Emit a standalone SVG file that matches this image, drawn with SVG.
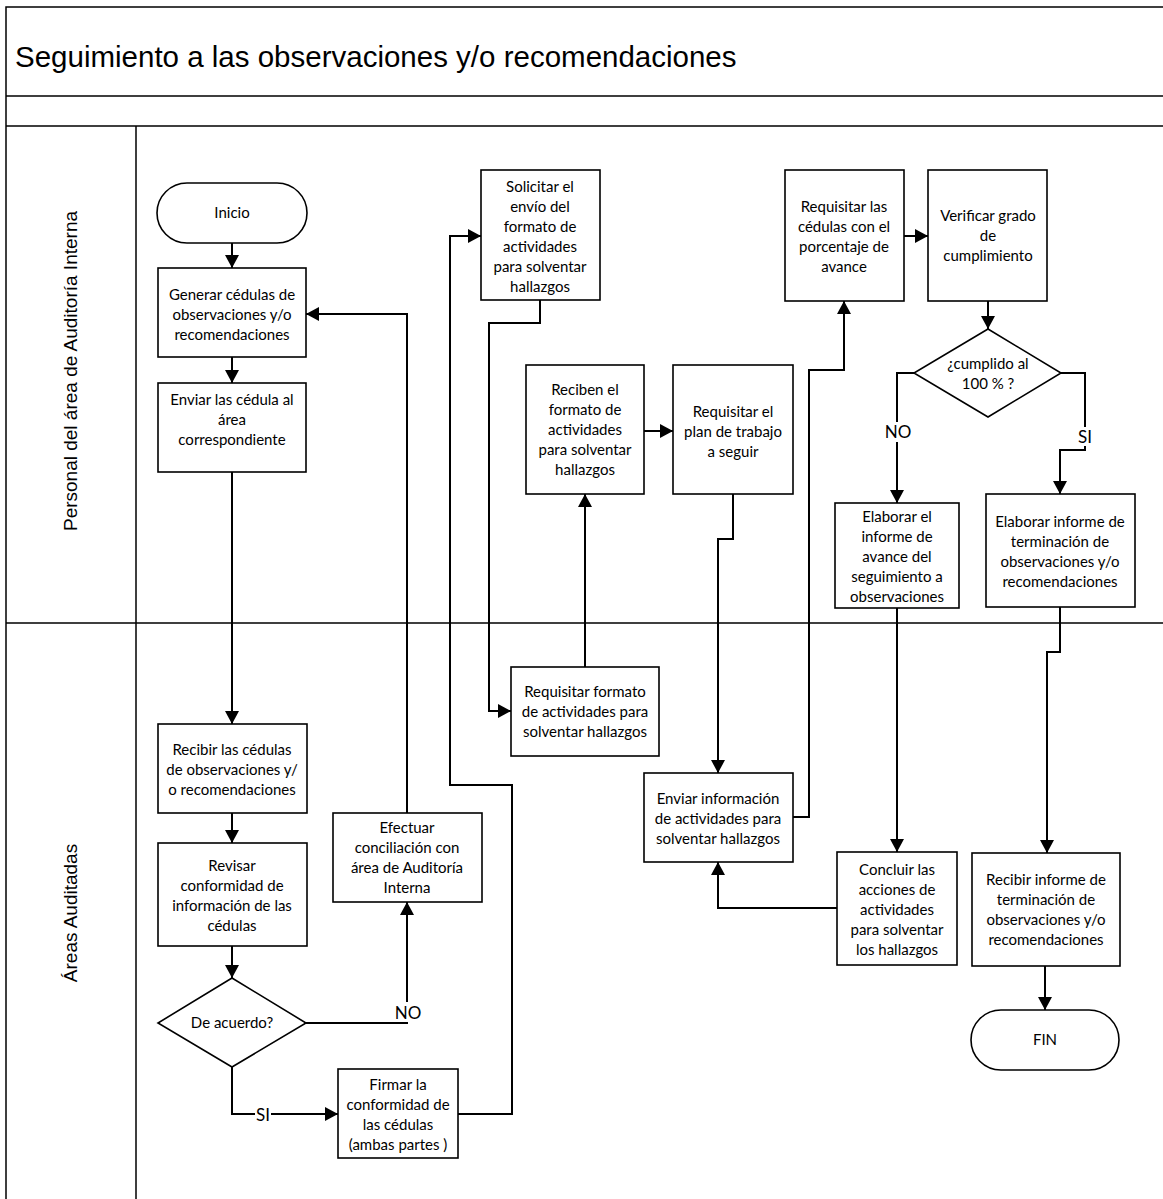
<svg xmlns="http://www.w3.org/2000/svg" width="1163" height="1199" viewBox="0 0 1163 1199">
<defs>
<marker id="arr" markerUnits="userSpaceOnUse" markerWidth="14" markerHeight="14" refX="13" refY="7" orient="auto">
<path d="M0,0 L13,7 L0,14 z" fill="#000"/>
</marker>
<style>
.frame{fill:none;stroke:#000;stroke-width:1.5}
.box{fill:#fff;stroke:#000;stroke-width:1.6}
.t{font-family:Lato,"Liberation Sans",sans-serif;font-size:15px;fill:#000;text-anchor:middle}
.lbl{font-family:Lato,"Liberation Sans",sans-serif;font-size:17px;fill:#000;text-anchor:middle}
.lane{font-family:"Liberation Sans",Arial,sans-serif;font-size:19px;fill:#000;text-anchor:middle}
.title{font-family:"Liberation Sans",Arial,sans-serif;font-size:29.5px;fill:#000}
.c{fill:none;stroke:#000;stroke-width:2;marker-end:url(#arr)}
.bg{fill:#fff}
</style>
</defs>
<rect width="1163" height="1199" fill="#fff"/>
<g id="frame">
<path class="frame" d="M6,1199 V7 H1163 M6,96 H1163 M6,126 H1163 M136,126 V1199 M6,623 H1163"/>
<text class="title" x="15" y="67">Seguimiento a las observaciones y/o recomendaciones</text>
<text class="lane" transform="translate(77,371) rotate(-90)">Personal del área de Auditoría Interna</text>
<text class="lane" transform="translate(77,913) rotate(-90)">Áreas Auditadas</text>
</g>
<g id="connectors">
<path class="c" d="M232,243 V268"/>
<path class="c" d="M232,357 V383"/>
<path class="c" d="M232,472 V724"/>
<path class="c" d="M232,813 V843"/>
<path class="c" d="M232,946 V978"/>
<path class="c" d="M306,1023 H407 V902"/>
<path class="c" d="M407,813 V314 H306"/>
<path class="c" d="M232,1067 V1114 H338"/>
<path class="c" d="M458,1114 H512 V785 H450 V236 H481"/>
<path class="c" d="M540,300 V323 H489 V711 H511"/>
<path class="c" d="M585,667 V494"/>
<path class="c" d="M644,431 H673"/>
<path class="c" d="M733,494 V539 H718 V773"/>
<path class="c" d="M793,817 H809 V370 H844 V301"/>
<path class="c" d="M904,236 H928"/>
<path class="c" d="M988,301 V329"/>
<path class="c" d="M914,373 H897 V503"/>
<path class="c" d="M1061,373 H1085 V450 H1060 V494"/>
<path class="c" d="M897,608 V852"/>
<path class="c" d="M1060,607 V652 H1047 V853"/>
<path class="c" d="M837,908 H718 V862"/>
<path class="c" d="M1045,966 V1010"/>
<rect class="bg" x="393" y="1002" width="30" height="20"/>
<text class="lbl" x="408" y="1019">NO</text>
<rect class="bg" x="255" y="1107" width="16" height="18"/>
<text class="lbl" x="263" y="1121">SI</text>
<rect class="bg" x="883" y="422" width="30" height="20"/>
<text class="lbl" x="898" y="438">NO</text>
<rect class="bg" x="1077" y="427" width="16" height="19"/>
<text class="lbl" x="1085" y="443">SI</text>
</g>
<g id="inicio">
<rect class="box" x="157" y="183" width="150" height="60" rx="30"/>
<text class="t" x="232" y="218">Inicio</text>
</g>
<g id="generar">
<rect class="box" x="158" y="268" width="148" height="89"/>
<text class="t" x="232" y="300">Generar cédulas de</text>
<text class="t" x="232" y="320">observaciones y/o</text>
<text class="t" x="232" y="340">recomendaciones</text>
</g>
<g id="enviar">
<rect class="box" x="158" y="383" width="148" height="89"/>
<text class="t" x="232" y="405">Enviar las cédula al</text>
<text class="t" x="232" y="425">área</text>
<text class="t" x="232" y="445">correspondiente</text>
</g>
<g id="solicitar">
<rect class="box" x="481" y="170" width="119" height="130"/>
<text class="t" x="540" y="192">Solicitar el</text>
<text class="t" x="540" y="212">envío del</text>
<text class="t" x="540" y="232">formato de</text>
<text class="t" x="540" y="252">actividades</text>
<text class="t" x="540" y="272">para solventar</text>
<text class="t" x="540" y="292">hallazgos</text>
</g>
<g id="reciben">
<rect class="box" x="526" y="365" width="118" height="129"/>
<text class="t" x="585" y="395">Reciben el</text>
<text class="t" x="585" y="415">formato de</text>
<text class="t" x="585" y="435">actividades</text>
<text class="t" x="585" y="455">para solventar</text>
<text class="t" x="585" y="475">hallazgos</text>
</g>
<g id="plan">
<rect class="box" x="673" y="365" width="120" height="129"/>
<text class="t" x="733" y="417">Requisitar el</text>
<text class="t" x="733" y="437">plan de trabajo</text>
<text class="t" x="733" y="457">a seguir</text>
</g>
<g id="requisitar-cedulas">
<rect class="box" x="785" y="170" width="119" height="131"/>
<text class="t" x="844" y="212">Requisitar las</text>
<text class="t" x="844" y="232">cédulas con el</text>
<text class="t" x="844" y="252">porcentaje de</text>
<text class="t" x="844" y="272">avance</text>
</g>
<g id="verificar">
<rect class="box" x="928" y="170" width="119" height="131"/>
<text class="t" x="988" y="221">Verificar grado</text>
<text class="t" x="988" y="241">de</text>
<text class="t" x="988" y="261">cumplimiento</text>
</g>
<g id="cumplido">
<polygon class="box" points="988,329 1061,373 988,417 914,373"/>
<text class="t" x="988" y="369">¿cumplido al</text>
<text class="t" x="988" y="389">100 % ?</text>
</g>
<g id="avance">
<rect class="box" x="835" y="503" width="124" height="105"/>
<text class="t" x="897" y="522">Elaborar el</text>
<text class="t" x="897" y="542">informe de</text>
<text class="t" x="897" y="562">avance del</text>
<text class="t" x="897" y="582">seguimiento a</text>
<text class="t" x="897" y="602">observaciones</text>
</g>
<g id="terminacion">
<rect class="box" x="986" y="494" width="149" height="113"/>
<text class="t" x="1060" y="527">Elaborar informe de</text>
<text class="t" x="1060" y="547">terminación de</text>
<text class="t" x="1060" y="567">observaciones y/o</text>
<text class="t" x="1060" y="587">recomendaciones</text>
</g>
<g id="recibir">
<rect class="box" x="158" y="724" width="149" height="89"/>
<text class="t" x="232" y="755">Recibir las cédulas</text>
<text class="t" x="232" y="775">de observaciones y/</text>
<text class="t" x="232" y="795">o recomendaciones</text>
</g>
<g id="revisar">
<rect class="box" x="158" y="843" width="149" height="103"/>
<text class="t" x="232" y="871">Revisar</text>
<text class="t" x="232" y="891">conformidad de</text>
<text class="t" x="232" y="911">información de las</text>
<text class="t" x="232" y="931">cédulas</text>
</g>
<g id="deacuerdo">
<polygon class="box" points="232,978 306,1023 232,1067 158,1023"/>
<text class="t" x="232" y="1028">De acuerdo?</text>
</g>
<g id="efectuar">
<rect class="box" x="333" y="813" width="149" height="89"/>
<text class="t" x="407" y="833">Efectuar</text>
<text class="t" x="407" y="853">conciliación con</text>
<text class="t" x="407" y="873">área de Auditoría</text>
<text class="t" x="407" y="893">Interna</text>
</g>
<g id="firmar">
<rect class="box" x="338" y="1069" width="120" height="89"/>
<text class="t" x="398" y="1090">Firmar la</text>
<text class="t" x="398" y="1110">conformidad de</text>
<text class="t" x="398" y="1130">las cédulas</text>
<text class="t" x="398" y="1150">(ambas partes )</text>
</g>
<g id="requisitar-formato">
<rect class="box" x="511" y="667" width="148" height="89"/>
<text class="t" x="585" y="697">Requisitar formato</text>
<text class="t" x="585" y="717">de actividades para</text>
<text class="t" x="585" y="737">solventar hallazgos</text>
</g>
<g id="enviar-info">
<rect class="box" x="644" y="773" width="149" height="89"/>
<text class="t" x="718" y="804">Enviar información</text>
<text class="t" x="718" y="824">de actividades para</text>
<text class="t" x="718" y="844">solventar hallazgos</text>
</g>
<g id="concluir">
<rect class="box" x="837" y="852" width="120" height="113"/>
<text class="t" x="897" y="875">Concluir las</text>
<text class="t" x="897" y="895">acciones de</text>
<text class="t" x="897" y="915">actividades</text>
<text class="t" x="897" y="935">para solventar</text>
<text class="t" x="897" y="955">los hallazgos</text>
</g>
<g id="recibir-informe">
<rect class="box" x="972" y="853" width="148" height="113"/>
<text class="t" x="1046" y="885">Recibir informe de</text>
<text class="t" x="1046" y="905">terminación de</text>
<text class="t" x="1046" y="925">observaciones y/o</text>
<text class="t" x="1046" y="945">recomendaciones</text>
</g>
<g id="fin">
<rect class="box" x="971" y="1010" width="148" height="60" rx="30"/>
<text class="t" x="1045" y="1045">FIN</text>
</g>
</svg>
